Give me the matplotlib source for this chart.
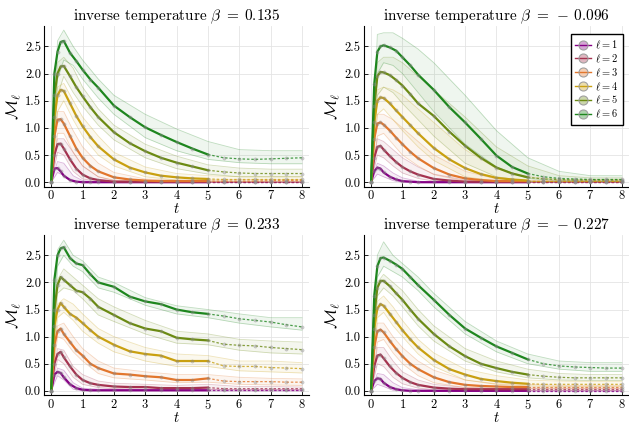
import numpy as np
import matplotlib
matplotlib.use("Agg")
import matplotlib.pyplot as plt
from matplotlib.lines import Line2D

plt.rcParams['font.family'] = 'serif'
plt.rcParams['font.serif'] = ['cmr10', 'DejaVu Serif']
plt.rcParams['mathtext.fontset'] = 'cm'
plt.rcParams['axes.formatter.use_mathtext'] = True

# time grid for the mean curves
t = [0, 0.1, 0.2, 0.3, 0.4, 0.6, 0.8, 1.0, 1.25, 1.5, 2.0, 2.5, 3.0, 3.5,
     4.0, 4.5, 5.0, 5.5, 6.0, 6.5, 7.0, 7.5, 8.0]
# coarser grid for the spread of single runs
tb = [0, 0.2, 0.4, 0.7, 1, 1.5, 2, 3, 4, 5, 6, 7, 8]

betas = ['0.135', '-0.096', '0.233', '-0.227']
labels = [r'$\ell = %d$' % l for l in range(1, 7)]
colors = ['#850085', '#a5324f', '#e2762c', '#c9a010', '#6b8a12', '#1e861e']

# mean curves, one row per ell = 1..6
mean_b0135 = [
    [0, 0.25, 0.26, 0.20, 0.12, 0.04, 0.01, 0, 0, 0, 0, 0, 0, 0, 0, 0, 0, 0, 0, 0, 0, 0, 0],
    [0, 0.50, 0.70, 0.71, 0.62, 0.42, 0.25, 0.14, 0.07, 0.04, 0.01, 0.01, 0.01, 0.01, 0.01, 0.01, 0.01, 0.01, 0.01, 0.01, 0.01, 0.01, 0.01],
    [0, 0.85, 1.15, 1.16, 1.08, 0.85, 0.62, 0.45, 0.30, 0.20, 0.09, 0.05, 0.03, 0.02, 0.02, 0.02, 0.02, 0.02, 0.02, 0.02, 0.03, 0.03, 0.03],
    [0, 1.20, 1.60, 1.70, 1.68, 1.45, 1.22, 1.03, 0.83, 0.66, 0.42, 0.27, 0.18, 0.12, 0.09, 0.07, 0.06, 0.05, 0.05, 0.05, 0.05, 0.05, 0.05],
    [0, 1.60, 2.00, 2.13, 2.14, 1.95, 1.75, 1.58, 1.38, 1.20, 0.92, 0.72, 0.57, 0.45, 0.36, 0.29, 0.22, 0.19, 0.17, 0.16, 0.16, 0.16, 0.16],
    [0, 2.00, 2.40, 2.58, 2.60, 2.38, 2.23, 2.07, 1.89, 1.74, 1.41, 1.20, 1.01, 0.87, 0.74, 0.62, 0.51, 0.45, 0.43, 0.42, 0.43, 0.44, 0.45],
]
mean_bm0096 = [
    [0, 0.20, 0.27, 0.25, 0.18, 0.10, 0.05, 0.02, 0.01, 0, 0, 0, 0, 0, 0, 0, 0, 0, 0, 0, 0, 0, 0],
    [0, 0.45, 0.65, 0.67, 0.60, 0.48, 0.37, 0.28, 0.20, 0.14, 0.06, 0.03, 0.01, 0.01, 0.01, 0.01, 0.01, 0.01, 0.01, 0.01, 0.01, 0.01, 0.01],
    [0, 0.80, 1.08, 1.10, 1.06, 0.95, 0.82, 0.70, 0.56, 0.44, 0.26, 0.14, 0.07, 0.04, 0.02, 0.02, 0.02, 0.02, 0.02, 0.02, 0.02, 0.02, 0.02],
    [0, 1.10, 1.50, 1.56, 1.55, 1.45, 1.32, 1.20, 1.05, 0.90, 0.63, 0.42, 0.26, 0.15, 0.08, 0.05, 0.03, 0.03, 0.03, 0.03, 0.03, 0.03, 0.03],
    [0, 1.40, 1.95, 2.03, 2.02, 1.97, 1.88, 1.78, 1.62, 1.45, 1.22, 0.93, 0.67, 0.45, 0.27, 0.16, 0.09, 0.06, 0.05, 0.04, 0.04, 0.04, 0.04],
    [0, 1.80, 2.40, 2.50, 2.52, 2.48, 2.42, 2.30, 2.15, 1.98, 1.70, 1.38, 1.10, 0.80, 0.49, 0.28, 0.16, 0.10, 0.07, 0.06, 0.05, 0.05, 0.05],
]
mean_b0233 = [
    [0, 0.30, 0.35, 0.33, 0.25, 0.12, 0.05, 0.02, 0.01, 0.01, 0.01, 0.01, 0.01, 0.01, 0.01, 0.01, 0.01, 0.01, 0.01, 0.01, 0.01, 0.01, 0.01],
    [0, 0.50, 0.68, 0.72, 0.62, 0.45, 0.30, 0.20, 0.14, 0.11, 0.08, 0.07, 0.07, 0.05, 0.05, 0.05, 0.06, 0.04, 0.04, 0.04, 0.04, 0.04, 0.04],
    [0, 0.85, 1.10, 1.15, 1.05, 0.90, 0.75, 0.65, 0.50, 0.42, 0.32, 0.30, 0.27, 0.25, 0.20, 0.20, 0.23, 0.18, 0.17, 0.17, 0.17, 0.16, 0.16],
    [0, 1.20, 1.50, 1.62, 1.55, 1.42, 1.35, 1.25, 1.12, 1.00, 0.85, 0.73, 0.68, 0.65, 0.55, 0.55, 0.55, 0.46, 0.45, 0.45, 0.43, 0.42, 0.41],
    [0, 1.50, 1.95, 2.10, 2.05, 1.95, 1.85, 1.82, 1.70, 1.55, 1.40, 1.25, 1.15, 1.10, 0.98, 0.95, 0.93, 0.86, 0.84, 0.83, 0.80, 0.78, 0.76],
    [0, 2.05, 2.50, 2.63, 2.65, 2.45, 2.35, 2.32, 2.15, 2.00, 1.92, 1.74, 1.65, 1.60, 1.50, 1.45, 1.42, 1.38, 1.33, 1.30, 1.27, 1.22, 1.18],
]
mean_bm0227 = [
    [0, 0.18, 0.23, 0.22, 0.15, 0.07, 0.03, 0.01, 0, 0, 0, 0, 0, 0, 0, 0, 0, 0, 0, 0, 0, 0, 0],
    [0, 0.45, 0.65, 0.67, 0.60, 0.45, 0.33, 0.24, 0.16, 0.11, 0.06, 0.04, 0.03, 0.03, 0.03, 0.03, 0.03, 0.03, 0.03, 0.03, 0.03, 0.03, 0.03],
    [0, 0.80, 1.10, 1.13, 1.08, 0.92, 0.77, 0.64, 0.50, 0.40, 0.25, 0.16, 0.11, 0.09, 0.08, 0.07, 0.07, 0.07, 0.07, 0.07, 0.07, 0.07, 0.07],
    [0, 1.15, 1.52, 1.60, 1.57, 1.42, 1.27, 1.12, 0.95, 0.80, 0.57, 0.40, 0.30, 0.22, 0.18, 0.15, 0.13, 0.12, 0.12, 0.12, 0.12, 0.12, 0.12],
    [0, 1.40, 1.90, 2.03, 2.03, 1.93, 1.80, 1.68, 1.50, 1.33, 1.05, 0.82, 0.64, 0.50, 0.42, 0.35, 0.30, 0.27, 0.25, 0.24, 0.24, 0.24, 0.24],
    [0, 1.75, 2.30, 2.45, 2.46, 2.40, 2.33, 2.25, 2.10, 1.95, 1.68, 1.40, 1.15, 0.98, 0.82, 0.70, 0.58, 0.50, 0.46, 0.44, 0.43, 0.42, 0.42],
]

# upper / lower edge of the single runs, on tb
hi_b0135 = [
    [0, 0.38, 0.35, 0.12, 0.03, 0, 0, 0, 0, 0, 0, 0, 0],
    [0, 0.80, 0.80, 0.55, 0.30, 0.10, 0.03, 0.01, 0.01, 0.01, 0.01, 0.01, 0.01],
    [0, 1.30, 1.30, 0.95, 0.65, 0.35, 0.18, 0.06, 0.04, 0.04, 0.05, 0.05, 0.05],
    [0, 1.75, 1.82, 1.50, 1.20, 0.85, 0.55, 0.28, 0.16, 0.12, 0.10, 0.10, 0.10],
    [0, 2.20, 2.30, 2.10, 1.75, 1.35, 1.05, 0.70, 0.48, 0.32, 0.26, 0.24, 0.24],
    [0, 2.60, 2.80, 2.50, 2.25, 1.90, 1.60, 1.25, 0.98, 0.75, 0.60, 0.58, 0.58],
]
lo_b0135 = [
    [0, 0.18, 0.12, 0.01, 0, 0, 0, 0, 0, 0, 0, 0, 0],
    [0, 0.55, 0.50, 0.20, 0.06, 0.01, 0, 0, 0, 0, 0, 0, 0],
    [0, 0.90, 0.90, 0.55, 0.30, 0.10, 0.04, 0.01, 0, 0, 0, 0, 0],
    [0, 1.30, 1.50, 1.15, 0.85, 0.50, 0.30, 0.10, 0.04, 0.02, 0.02, 0.02, 0.02],
    [0, 1.60, 1.95, 1.65, 1.40, 1.05, 0.78, 0.45, 0.25, 0.15, 0.10, 0.10, 0.10],
    [0, 1.90, 2.25, 2.15, 1.90, 1.55, 1.25, 0.82, 0.58, 0.42, 0.36, 0.34, 0.34],
]
hi_bm0096 = [
    [0, 0.35, 0.30, 0.17, 0.08, 0.02, 0, 0, 0, 0, 0, 0, 0],
    [0, 0.80, 0.75, 0.60, 0.45, 0.28, 0.15, 0.04, 0.01, 0.01, 0.01, 0.01, 0.01],
    [0, 1.25, 1.25, 1.15, 1.00, 0.75, 0.50, 0.20, 0.06, 0.03, 0.03, 0.03, 0.03],
    [0, 1.70, 1.75, 1.70, 1.60, 1.35, 1.10, 0.60, 0.25, 0.10, 0.05, 0.05, 0.05],
    [0, 2.20, 2.30, 2.30, 2.20, 1.95, 1.70, 1.20, 0.65, 0.30, 0.12, 0.08, 0.08],
    [0, 2.72, 2.75, 2.75, 2.65, 2.45, 2.20, 1.60, 0.95, 0.45, 0.20, 0.12, 0.12],
]
lo_bm0096 = [
    [0, 0.15, 0.10, 0.03, 0, 0, 0, 0, 0, 0, 0, 0, 0],
    [0, 0.50, 0.45, 0.30, 0.17, 0.07, 0.02, 0, 0, 0, 0, 0, 0],
    [0, 0.85, 0.90, 0.70, 0.50, 0.30, 0.14, 0.02, 0, 0, 0, 0, 0],
    [0, 1.25, 1.35, 1.15, 0.95, 0.65, 0.40, 0.10, 0.02, 0.01, 0.01, 0.01, 0.01],
    [0, 1.60, 1.75, 1.65, 1.45, 1.15, 0.85, 0.35, 0.10, 0.02, 0.01, 0.01, 0.01],
    [0, 2.00, 2.20, 2.15, 2.00, 1.65, 1.30, 0.70, 0.28, 0.07, 0.03, 0.02, 0.02],
]
hi_b0233 = [
    [0, 0.42, 0.38, 0.15, 0.05, 0.03, 0.03, 0.02, 0.02, 0.02, 0.02, 0.02, 0.02],
    [0, 0.78, 0.75, 0.45, 0.30, 0.18, 0.14, 0.12, 0.10, 0.12, 0.08, 0.08, 0.07],
    [0, 1.20, 1.25, 1.00, 0.78, 0.55, 0.42, 0.35, 0.30, 0.30, 0.25, 0.23, 0.22],
    [0, 1.60, 1.70, 1.60, 1.42, 1.15, 1.00, 0.80, 0.68, 0.65, 0.55, 0.55, 0.52],
    [0, 2.05, 2.25, 2.10, 1.95, 1.70, 1.55, 1.30, 1.10, 1.05, 0.95, 0.92, 0.90],
    [0, 2.60, 2.78, 2.50, 2.40, 2.10, 2.00, 1.72, 1.57, 1.50, 1.42, 1.35, 1.35],
]
lo_b0233 = [
    [0, 0.28, 0.20, 0.03, 0, 0, 0, 0, 0, 0, 0, 0, 0],
    [0, 0.58, 0.50, 0.25, 0.12, 0.06, 0.04, 0.03, 0.02, 0.03, 0.02, 0.02, 0.02],
    [0, 1.00, 0.95, 0.72, 0.55, 0.32, 0.24, 0.20, 0.15, 0.16, 0.12, 0.11, 0.10],
    [0, 1.35, 1.45, 1.30, 1.10, 0.88, 0.72, 0.55, 0.45, 0.45, 0.37, 0.35, 0.33],
    [0, 1.80, 1.90, 1.85, 1.70, 1.40, 1.28, 1.05, 0.88, 0.85, 0.75, 0.70, 0.68],
    [0, 2.30, 2.50, 2.30, 2.20, 1.90, 1.82, 1.58, 1.42, 1.35, 1.25, 1.18, 1.12],
]
hi_bm0227 = [
    [0, 0.32, 0.30, 0.15, 0.06, 0.02, 0.01, 0, 0, 0, 0, 0, 0],
    [0, 0.80, 0.80, 0.55, 0.35, 0.20, 0.12, 0.06, 0.05, 0.05, 0.05, 0.05, 0.05],
    [0, 1.25, 1.25, 1.00, 0.80, 0.55, 0.38, 0.20, 0.13, 0.12, 0.10, 0.10, 0.10],
    [0, 1.65, 1.75, 1.55, 1.30, 0.95, 0.70, 0.40, 0.28, 0.20, 0.18, 0.17, 0.17],
    [0, 2.00, 2.15, 2.00, 1.85, 1.50, 1.20, 0.78, 0.55, 0.40, 0.32, 0.30, 0.30],
    [0, 2.50, 2.75, 2.50, 2.35, 2.10, 1.80, 1.28, 0.92, 0.68, 0.55, 0.52, 0.52],
]
lo_bm0227 = [
    [0, 0.12, 0.08, 0.01, 0, 0, 0, 0, 0, 0, 0, 0, 0],
    [0, 0.50, 0.45, 0.25, 0.13, 0.05, 0.02, 0.01, 0.01, 0.01, 0.01, 0.01, 0.01],
    [0, 0.90, 0.95, 0.70, 0.50, 0.28, 0.15, 0.06, 0.04, 0.04, 0.04, 0.04, 0.04],
    [0, 1.35, 1.45, 1.20, 1.00, 0.68, 0.45, 0.20, 0.12, 0.09, 0.08, 0.08, 0.08],
    [0, 1.75, 1.90, 1.75, 1.55, 1.20, 0.92, 0.55, 0.35, 0.24, 0.20, 0.19, 0.19],
    [0, 2.10, 2.30, 2.20, 2.10, 1.85, 1.55, 1.05, 0.72, 0.50, 0.40, 0.36, 0.36],
]

means = [mean_b0135, mean_bm0096, mean_b0233, mean_bm0227]
his = [hi_b0135, hi_bm0096, hi_b0233, hi_bm0227]
los = [lo_b0135, lo_bm0096, lo_b0233, lo_bm0227]

fig = plt.figure(figsize=(6.29, 4.24), dpi=100)
boxes = [[0.0695, 0.560, 0.4225, 0.378], [0.578, 0.560, 0.4225, 0.378],
         [0.0695, 0.068, 0.4225, 0.377], [0.578, 0.068, 0.4225, 0.377]]

tt = np.array(t)
cut = tt <= 5.0
for k in range(4):
    ax = fig.add_axes(boxes[k])
    for i in range(6):
        c = colors[i]
        ax.fill_between(tb, los[k][i], his[k][i], color=c, alpha=0.07, lw=0)
        ax.plot(tb, his[k][i], color=c, alpha=0.28, lw=0.6)
        ax.plot(tb, los[k][i], color=c, alpha=0.28, lw=0.6)
    for i in range(6):
        c = colors[i]
        m = np.array(means[k][i])
        ax.plot(tt[cut], m[cut], color=c, lw=1.6, zorder=3)
        ax.plot(tt[tt >= 5.0], m[tt >= 5.0], color=c, lw=0.9, ls=(0, (2, 1.5)), alpha=0.8, zorder=3)
        ax.plot(tt, m, ls='none', marker='o', ms=2.4, mfc='#8a8a8a', mec='#8a8a8a',
                mew=0.3, alpha=0.4, zorder=4)

    b = betas[k]
    if b.startswith('-'):
        title = r'inverse temperature $\beta\;=\;-\,%s$' % b[1:]
    else:
        title = r'inverse temperature $\beta\;=\;%s$' % b
    ax.set_title(title, fontsize=11, pad=3)
    ax.set_xlim(-0.24, 8.24)
    ax.set_ylim(-0.08, 2.87)
    ax.set_xticks(range(9))
    ax.set_yticks([0, 0.5, 1.0, 1.5, 2.0, 2.5])
    ax.set_yticklabels(['0.0', '0.5', '1.0', '1.5', '2.0', '2.5'])
    ax.grid(True, color='#e4e4e4', lw=0.6)
    ax.set_axisbelow(True)
    for s in ['top', 'right']:
        ax.spines[s].set_visible(False)
    ax.tick_params(direction='in', length=3, width=0.6, labelsize=9, pad=2)
    ax.set_xlabel(r'$t$', fontsize=10.5, labelpad=-1)
    ax.set_ylabel(r'$\mathcal{M}_\ell$', fontsize=12, labelpad=1)

    if k == 1:
        handles = [Line2D([0], [0], color=colors[i], lw=1.0, marker='o', ms=6.5,
                          mfc=matplotlib.colors.to_rgba(colors[i], 0.35),
                          mec='#a0a0a0', mew=0.8) for i in range(6)]
        ax.legend(handles, labels, loc='upper right', fontsize=7.5, frameon=True,
                  fancybox=False, edgecolor='black', framealpha=1,
                  handlelength=1.5, handletextpad=0.4, labelspacing=0.15,
                  borderpad=0.45, bbox_to_anchor=(0.995, 0.985))

fig.savefig('out.png', dpi=100)
